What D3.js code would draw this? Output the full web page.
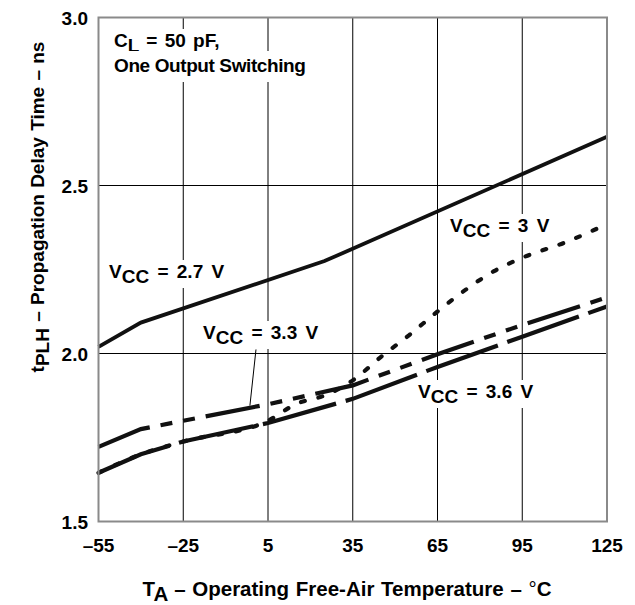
<!DOCTYPE html>
<html>
<head>
<meta charset="utf-8">
<script src="https://cdn.jsdelivr.net/npm/d3@7"></script>
<style>
  html, body { margin: 0; padding: 0; background: #fff; }
  svg { display: block; }
  text { font-family: "Liberation Sans", Arial, Helvetica, sans-serif; font-weight: bold; fill: #000; }
</style>
</head>
<body>
<svg id="chart" width="635" height="605"></svg>
<script>
// ---- data ----
const xTicks = [-55, -25, 5, 35, 65, 95, 125];
const yTicks = [1.5, 2.0, 2.5, 3.0];

const temps27 = [-55, -40, 25, 125];
const vcc27   = [2.02, 2.092, 2.275, 2.645];

const temps30 = [-55, -40, -25, 5, 15, 25, 35, 45, 55, 65, 75, 85, 95, 110, 125];
const vcc30   = [1.645, 1.70, 1.738, 1.80, 1.85, 1.875, 1.92, 1.99, 2.055, 2.125, 2.19, 2.245, 2.285, 2.33, 2.385];

const temps33 = [-55, -40, -25, 5, 35, 65, 95, 125];
const vcc33   = [1.722, 1.775, 1.80, 1.849, 1.905, 1.998, 2.085, 2.167];

const temps36 = [-55, -40, -25, 5, 35, 65, 95, 125];
const vcc36   = [1.645, 1.70, 1.738, 1.793, 1.865, 1.96, 2.05, 2.14];

// ---- layout ----
const svg = d3.select("#chart");
const pLeft = 98.5, pRight = 607, pTop = 17.5, pBottom = 521.5;
const x = d3.scaleLinear().domain([-55, 125]).range([pLeft, pRight]);
const y = d3.scaleLinear().domain([1.5, 3.0]).range([pBottom, pTop]);
const fmtX = v => (v < 0 ? "\u2013" + Math.abs(v) : String(v));
const FS = 19;

// gridlines
const grid = svg.append("g");
grid.selectAll("line.v").data(xTicks.slice(1, -1)).join("line")
  .attr("x1", d => x(d)).attr("x2", d => x(d))
  .attr("y1", pTop).attr("y2", pBottom)
  .attr("stroke", "#000").attr("stroke-width", 1);
grid.selectAll("line.h").data(yTicks.slice(1, -1)).join("line")
  .attr("y1", d => y(d)).attr("y2", d => y(d))
  .attr("x1", pLeft).attr("x2", pRight)
  .attr("stroke", "#000").attr("stroke-width", 1);

// curves
const series = [
  { t: temps27, v: vcc27, dash: null, w: 3.8, cap: "butt", curve: d3.curveLinear },
  { t: temps30, v: vcc30, dash: "4,14", w: 4.2, cap: "round", curve: d3.curveMonotoneX },
  { t: temps33, v: vcc33, dash: "55,11,12,11,12,11", w: 4.2, cap: "butt", curve: d3.curveLinear },
  { t: temps36, v: vcc36, dash: "76,10", w: 4.2, cap: "butt", curve: d3.curveLinear }
];
series.forEach(s => {
  const pts = s.t.map((t, i) => [t, s.v[i]]);
  const line = d3.line().x(d => x(d[0])).y(d => y(d[1])).curve(s.curve);
  svg.append("path").datum(pts)
    .attr("d", line)
    .attr("fill", "none")
    .attr("stroke", "#111")
    .attr("stroke-width", s.w)
    .attr("stroke-linecap", s.cap)
    .attr("stroke-dasharray", s.dash);
});

// labels with white backing boxes
const labelLayer = svg.append("g");
function subLabel(xp, yp, main, sub, rest, shift, ws) {
  const g = labelLayer.append("g");
  const bg = g.append("rect").attr("fill", "#fff");
  const t = g.append("text").attr("x", xp).attr("y", yp)
    .attr("font-size", FS).style("word-spacing", ws + "px");
  t.append("tspan").text(main);
  t.append("tspan").attr("dy", shift).text(sub);
  t.append("tspan").attr("dy", -shift).text(rest);
  const bb = t.node().getBBox();
  bg.attr("x", bb.x - 2).attr("y", bb.y - 1).attr("width", bb.width + 4).attr("height", bb.height + 2);
  return g;
}

subLabel(114, 47, "C", "L", " = 50 pF,", 5, 2);
{
  const g = labelLayer.append("g");
  const bg = g.append("rect").attr("fill", "#fff");
  const t = g.append("text").attr("x", 114).attr("y", 72).attr("font-size", FS)
    .style("letter-spacing", "-0.4px").text("One Output Switching");
  const bb = t.node().getBBox();
  bg.attr("x", bb.x - 2).attr("y", bb.y - 4).attr("width", bb.width + 4).attr("height", bb.height + 10);
}
subLabel(109, 278, "V", "CC", " = 2.7 V", 5, 3);
subLabel(203, 339, "V", "CC", " = 3.3 V", 5, 3);
subLabel(450, 232, "V", "CC", " = 3 V", 5, 3);
subLabel(418, 398, "V", "CC", " = 3.6 V", 5, 3);

// leader line for 3.3 V
svg.append("line")
  .attr("x1", x(0.75)).attr("y1", y(2.012))
  .attr("x2", x(-1.4)).attr("y2", y(1.845))
  .attr("stroke", "#000").attr("stroke-width", 1);

// frame
svg.append("rect")
  .attr("x", pLeft).attr("y", pTop).attr("width", pRight - pLeft).attr("height", pBottom - pTop)
  .attr("fill", "none").attr("stroke", "#8a8a8a").attr("stroke-width", 2);

// tick labels
svg.append("g").selectAll("text").data(xTicks).join("text")
  .attr("x", d => x(d)).attr("y", 552)
  .attr("text-anchor", "middle").attr("font-size", FS)
  .text(fmtX);
svg.append("g").selectAll("text").data(yTicks).join("text")
  .attr("x", 88).attr("y", d => y(d) + 7)
  .attr("text-anchor", "end").attr("font-size", FS)
  .text(d => d3.format(".1f")(d));

// axis titles
{
  const t = svg.append("text").attr("x", 347).attr("y", 596)
    .attr("text-anchor", "middle").attr("font-size", 20.5).style("word-spacing", "1px");
  t.append("tspan").text("T");
  t.append("tspan").attr("dy", 5).text("A");
  t.append("tspan").attr("dy", -5).text(" \u2013 Operating Free-Air Temperature \u2013 ");
  t.append("tspan").style("font-weight", "normal").text("\u00B0");
  t.append("tspan").text("C");
}
{
  const t = svg.append("text")
    .attr("transform", "translate(44,207) rotate(-90)")
    .attr("text-anchor", "middle").attr("font-size", FS).style("word-spacing", "1px");
  t.append("tspan").text("t");
  t.append("tspan").attr("dy", 5).text("PLH");
  t.append("tspan").attr("dy", -5).text(" \u2013 Propagation Delay Time \u2013 ns");
}
</script>
</body>
</html>
